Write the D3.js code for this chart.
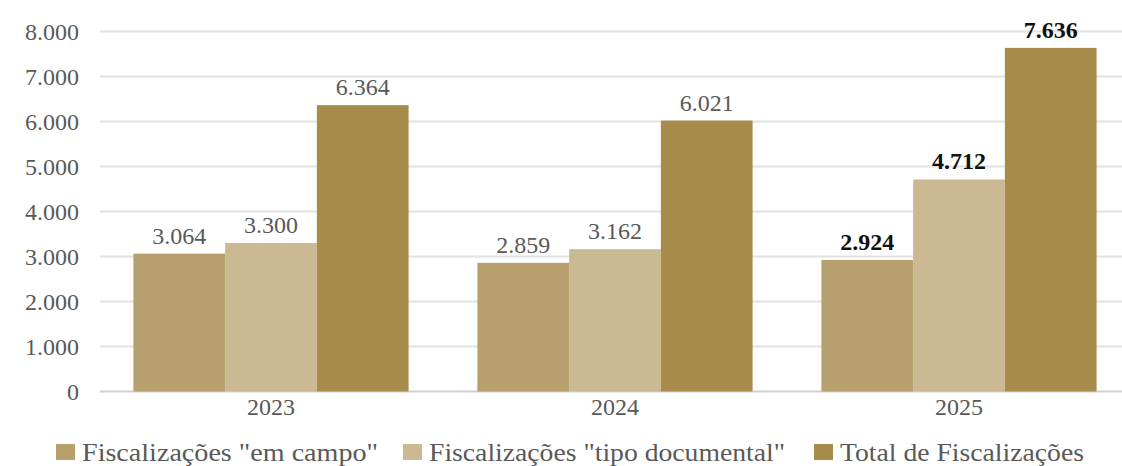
<!DOCTYPE html>
<html><head><meta charset="utf-8">
<script src="https://cdn.jsdelivr.net/npm/d3@7"></script>
<style>body{margin:0;background:#fff;}svg{display:block;}</style>
</head><body>
<svg id="chart" width="1122" height="466"></svg>
<script>
const categories = ["2023", "2024", "2025"];
const seriesNames = ['Fiscalizações "em campo"', 'Fiscalizações "tipo documental"', 'Total de Fiscalizações'];
const emCampo = [3064, 2859, 2924];
const tipoDocumental = [3300, 3162, 4712];
const total = [6364, 6021, 7636];
const yTicks = [0, 1000, 2000, 3000, 4000, 5000, 6000, 7000, 8000];
const colors = ["#b8a06e", "#cbb993", "#a88c4c"];
const boldCategory = "2025";

const series = [emCampo, tipoDocumental, total];
const svg = d3.select("#chart");
const fmt = v => d3.format(",")(v).replace(/,/g, ".");

const y = d3.scaleLinear().domain([0, 8000]).range([391.5, 31.5]);
const x0 = d3.scaleBand().domain(categories).range([99, 1131]).paddingInner(0.2).paddingOuter(0.1);
const x1 = d3.scaleBand().domain(d3.range(series.length)).range([0, x0.bandwidth()]);

// grid
svg.append("g").selectAll("line").data(yTicks).join("line")
  .attr("x1", 100).attr("x2", 1122)
  .attr("y1", d => y(d)).attr("y2", d => y(d))
  .attr("stroke", d => d === 0 ? "#d0d0d0" : "#e2e2e2").attr("stroke-width", 2);

// y axis labels
const yAxis = d3.axisLeft(y).tickValues(yTicks).tickFormat(fmt).tickSize(0).tickPadding(0);
const ya = svg.append("g").attr("transform", "translate(79,0)").call(yAxis);
ya.select(".domain").remove();
ya.selectAll("text").attr("font-family", "Liberation Serif, serif").attr("font-size", 24).attr("fill", "#595959");

// bars
const groups = svg.append("g").selectAll("g").data(categories).join("g")
  .attr("transform", c => `translate(${x0(c)},0)`);
groups.selectAll("rect").data((c, i) => series.map((s, k) => ({k, v: s[i], c}))).join("rect")
  .attr("x", d => x1(d.k)).attr("width", x1.bandwidth())
  .attr("y", d => y(d.v)).attr("height", d => y(0) - y(d.v))
  .attr("fill", d => colors[d.k]);
groups.selectAll("text").data((c, i) => series.map((s, k) => ({k, v: s[i], c}))).join("text")
  .attr("x", d => x1(d.k) + x1.bandwidth() / 2).attr("y", d => y(d.v) - 10)
  .attr("text-anchor", "middle")
  .attr("font-family", "Liberation Serif, serif").attr("font-size", 24)
  .attr("font-weight", d => d.c === boldCategory ? "bold" : "normal")
  .attr("fill", d => d.c === boldCategory ? "#111" : "#595959")
  .text(d => fmt(d.v));

// x axis labels
const xAxis = d3.axisBottom(x0).tickSize(0).tickPadding(0);
const xa = svg.append("g").attr("transform", "translate(0,398)").call(xAxis);
xa.select(".domain").remove();
xa.selectAll("text").attr("font-family", "Liberation Serif, serif").attr("font-size", 24).attr("fill", "#595959").attr("dy", "0.71em");

// legend
const legendX = [56, 403, 814];
const legendW = [296, 356, 244];
const lg = svg.append("g").selectAll("g").data(seriesNames).join("g")
  .attr("transform", (d, i) => `translate(${legendX[i]},452)`);
lg.append("rect").attr("x", 0).attr("y", -8).attr("width", 19).attr("height", 16).attr("fill", (d, i) => colors[i]);
lg.append("text").attr("x", 26).attr("y", 0).attr("dy", "0.35em")
  .attr("font-family", "Liberation Serif, serif").attr("font-size", 26).attr("fill", "#595959")
  .attr("textLength", (d, i) => legendW[i]).attr("lengthAdjust", "spacingAndGlyphs")
  .text(d => d);
</script>
</body></html>
